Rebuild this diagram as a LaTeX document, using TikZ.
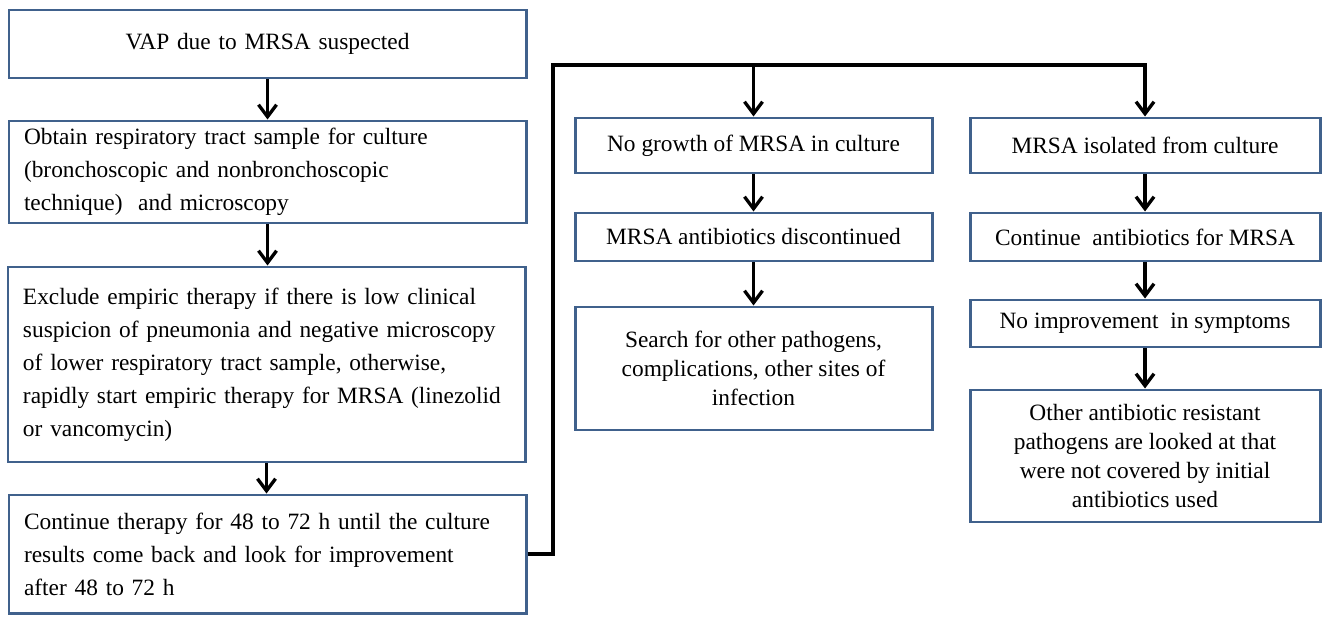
\documentclass[tikz,border=0pt]{standalone}
\usepackage{fontspec}
\setmainfont{Liberation Serif}
\usetikzlibrary{arrows.meta}
\definecolor{boxblue}{RGB}{64,97,140}
\hyphenpenalty=10000

\begin{document}
\begin{tikzpicture}[
  box/.style={draw=boxblue, line width=1.7pt, fill=white, inner ysep=0pt, font=\fontsize{13.3}{16.5}\selectfont},
  lbox/.style={box, minimum width=10.34cm, text width=9.74cm, inner xsep=0.3cm, align=left, font=\fontsize{13.3}{18.8}\selectfont},
  cbox/.style={box, align=center},
  arr/.style={line width=1.9pt, -{Straight Barb[length=0.24cm,width=0.36cm]}}
]
\useasboundingbox (0,0) rectangle (26.54,12.32);
\node[lbox, align=center, minimum height=1.36cm] (s1) at (5.35,11.44) {VAP due to MRSA suspected};
\node[lbox, minimum height=2.04cm] (s2) at (5.35,8.88) {Obtain respiratory tract sample for culture\\(bronchoscopic and nonbronchoscopic\\technique)\ \ and microscopy};
\node[lbox, minimum height=3.9cm] (s3) at (5.33,5.03) {Exclude empiric therapy if there is low clinical\\suspicion of pneumonia and negative microscopy\\of lower respiratory tract sample, otherwise,\\rapidly start empiric therapy for MRSA (linezolid\\or vancomycin)};
\node[lbox, minimum height=2.36cm] (s4) at (5.35,1.24) {Continue therapy for 48 to 72 h until the culture\\results come back and look for improvement\\after 48 to 72 h};
\node[cbox, minimum width=7.14cm, minimum height=1.1cm] (m1) at (15.07,9.41) {No growth of MRSA in culture};
\node[cbox, minimum width=7.14cm, minimum height=0.96cm] (m2) at (15.07,7.58) {MRSA antibiotics discontinued};
\node[cbox, minimum width=7.14cm, minimum height=2.46cm] (m3) at (15.07,4.95) {Search for other pathogens,\\complications, other sites of\\infection};
\node[cbox, minimum width=7cm, minimum height=1.1cm] (r1) at (22.9,9.41) {MRSA isolated from culture};
\node[cbox, minimum width=7cm, minimum height=0.96cm] (r2) at (22.9,7.58) {Continue\ \ antibiotics for MRSA};
\node[cbox, minimum width=7cm, minimum height=0.94cm] (r3) at (22.9,5.85) {No improvement\ \ in symptoms};
\node[cbox, minimum width=7cm, minimum height=2.64cm] (r4) at (22.9,3.2) {Other antibiotic resistant\\pathogens are looked at that\\were not covered by initial\\antibiotics used};
\coordinate (turn) at (11.06,11.02);
\draw[arr] (s1) -- (s1 |- s2.north);
\draw[arr] (s2) -- (s2 |- s3.north);
\draw[arr] (s3) -- (s3 |- s4.north);
\draw[arr] (s4.east) -| (turn) -| (r1);
\draw[arr] (turn -| m1) -- (m1);
\draw[arr] (m1) -- (m2);
\draw[arr] (m2) -- (m3);
\draw[arr] (r1) -- (r2);
\draw[arr] (r2) -- (r3);
\draw[arr] (r3) -- (r4);
\end{tikzpicture}
\end{document}
